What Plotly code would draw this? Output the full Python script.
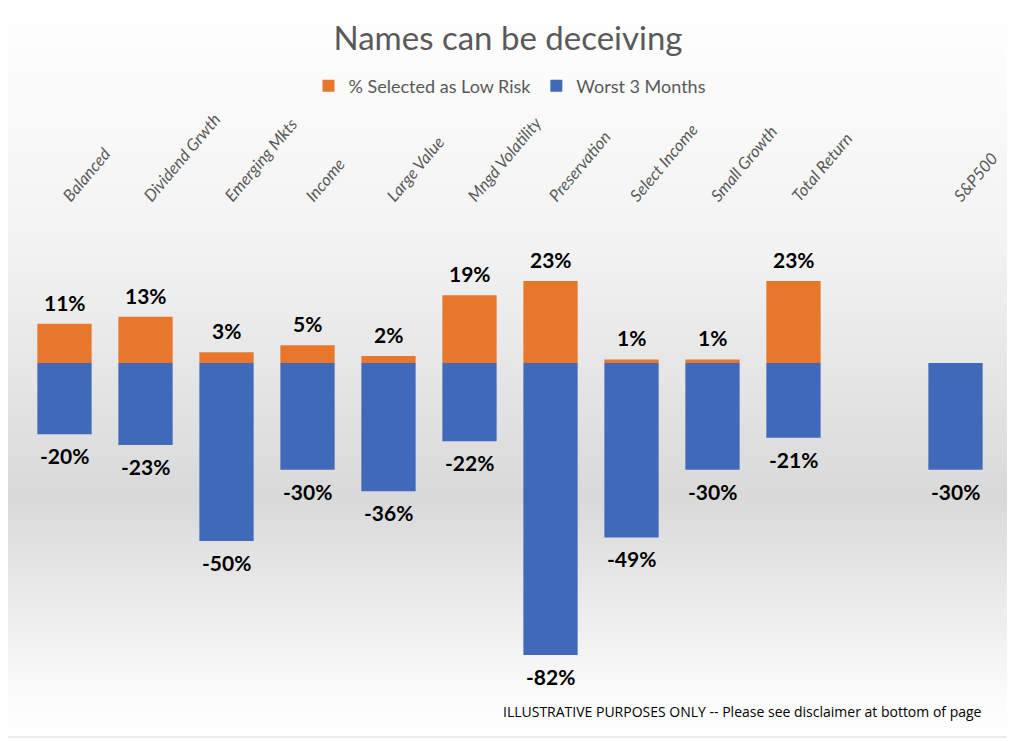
import plotly.graph_objects as go

# --- data ---
categories = ["Balanced", "Dividend Grwth", "Emerging Mkts", "Income", "Large Value",
              "Mngd Volatility", "Preservation", "Select Income", "Small Growth",
              "Total Return", "", "S&P500"]
low_risk_pct = [0.11, 0.13, 0.03, 0.05, 0.02, 0.19, 0.23, 0.01, 0.01, 0.23, None, None]
worst_3m = [-0.20, -0.23, -0.50, -0.30, -0.36, -0.22, -0.82, -0.49, -0.30, -0.21, None, -0.30]

W, H = 1015, 741
OX, OY = 7, 8  # page offset of the figure in the browser
ZERO = 363 - OY
L, R, T, B = 23 - OX, 20 + OX, 210 - OY, 41 + OY
PW, PH = W - L - R, H - T - B


def px(x):  # screen pixel -> paper x
    return (x - OX - L) / PW


def py(y):  # screen pixel -> paper y
    return (H - B - (y - OY)) / PH


ORANGE = "#e8762b"
BLUE = "#4169ba"
GREY = "#595959"

xs = list(range(len(categories)))

fig = go.Figure()
fig.add_trace(go.Bar(x=xs, y=low_risk_pct, name="% Selected as Low Risk",
                     marker=dict(color=ORANGE, line=dict(width=0))))
fig.add_trace(go.Bar(x=xs, y=worst_3m, name="Worst 3 Months",
                     marker=dict(color=BLUE, line=dict(width=0))))

lbl_font = dict(size=21, color="black", family="Lato", weight="bold")
annotations = []
for i in xs:
    if low_risk_pct[i] is not None:
        annotations.append(dict(x=i, y=low_risk_pct[i], xref="x", yref="y",
                                text="{:.0%}".format(low_risk_pct[i]), showarrow=False,
                                yanchor="bottom", yshift=7, font=lbl_font))
    if worst_3m[i] is not None:
        annotations.append(dict(x=i, y=worst_3m[i], xref="x", yref="y",
                                text="{:.0%}".format(worst_3m[i]), showarrow=False,
                                yanchor="top", yshift=-7, font=lbl_font))

annotations.append(dict(x=px(983), y=py(711), xref="paper", yref="paper",
                        xanchor="right", yanchor="middle", showarrow=False,
                        text="ILLUSTRATIVE PURPOSES ONLY -- Please see disclaimer at bottom of page",
                        font=dict(size=14, color="black", family="Open Sans")))

# Excel-style background gradient
svg = ("data:image/svg+xml;utf8,<svg xmlns='http://www.w3.org/2000/svg' width='100' height='100' "
       "preserveAspectRatio='none'><defs><linearGradient id='g' x1='0' y1='0' x2='0' y2='1'>"
       "<stop offset='0' stop-color='%23ffffff'/><stop offset='0.34' stop-color='%23f2f2f2'/>"
       "<stop offset='0.67' stop-color='%23d9d9d9'/><stop offset='0.95' stop-color='%23fcfcfc'/>"
       "<stop offset='1' stop-color='%23ffffff'/></linearGradient></defs>"
       "<rect width='100' height='100' fill='url(%23g)'/></svg>")

fig.update_layout(
    width=W, height=H,
    margin=dict(l=L, r=R, t=T, b=B),
    barmode="overlay", bargap=0.33,
    paper_bgcolor="white", plot_bgcolor="rgba(0,0,0,0)",
    title=dict(text="Names can be deceiving", x=px(507), xref="paper", xanchor="center",
               y=1 - (38 - OY) / H, yanchor="middle",
               font=dict(size=33, color=GREY, family="Lato")),
    legend=dict(orientation="h", x=px(509), xanchor="center", y=py(86), yanchor="middle",
                font=dict(size=18, color=GREY, family="Lato"), bgcolor="rgba(0,0,0,0)",
                traceorder="normal", itemwidth=30),
    xaxis=dict(side="top", tickmode="array", tickvals=xs, ticktext=categories,
               range=[-0.5, len(categories) - 0.5], tickangle=-50, showgrid=False,
               showline=False, zeroline=False, ticks="",
               tickfont=dict(size=16.5, color=GREY, family="Lato", style="italic")),
    yaxis=dict(range=[-(H - B - ZERO) / 356, (ZERO - T) / 356], visible=False,
               showgrid=False, zeroline=False),
    images=[dict(source=svg, xref="paper", yref="paper", x=px(0), y=py(0),
                 sizex=W / PW, sizey=H / PH, sizing="stretch", layer="below",
                 xanchor="left", yanchor="top")],
    shapes=[dict(type="rect", xref="paper", yref="paper", x0=px(3), x1=px(1010),
                 y0=py(737), y1=py(3), line=dict(color="#d9d9d9", width=1))],
    annotations=annotations,
    showlegend=True,
)

fig.write_html("out.html")
